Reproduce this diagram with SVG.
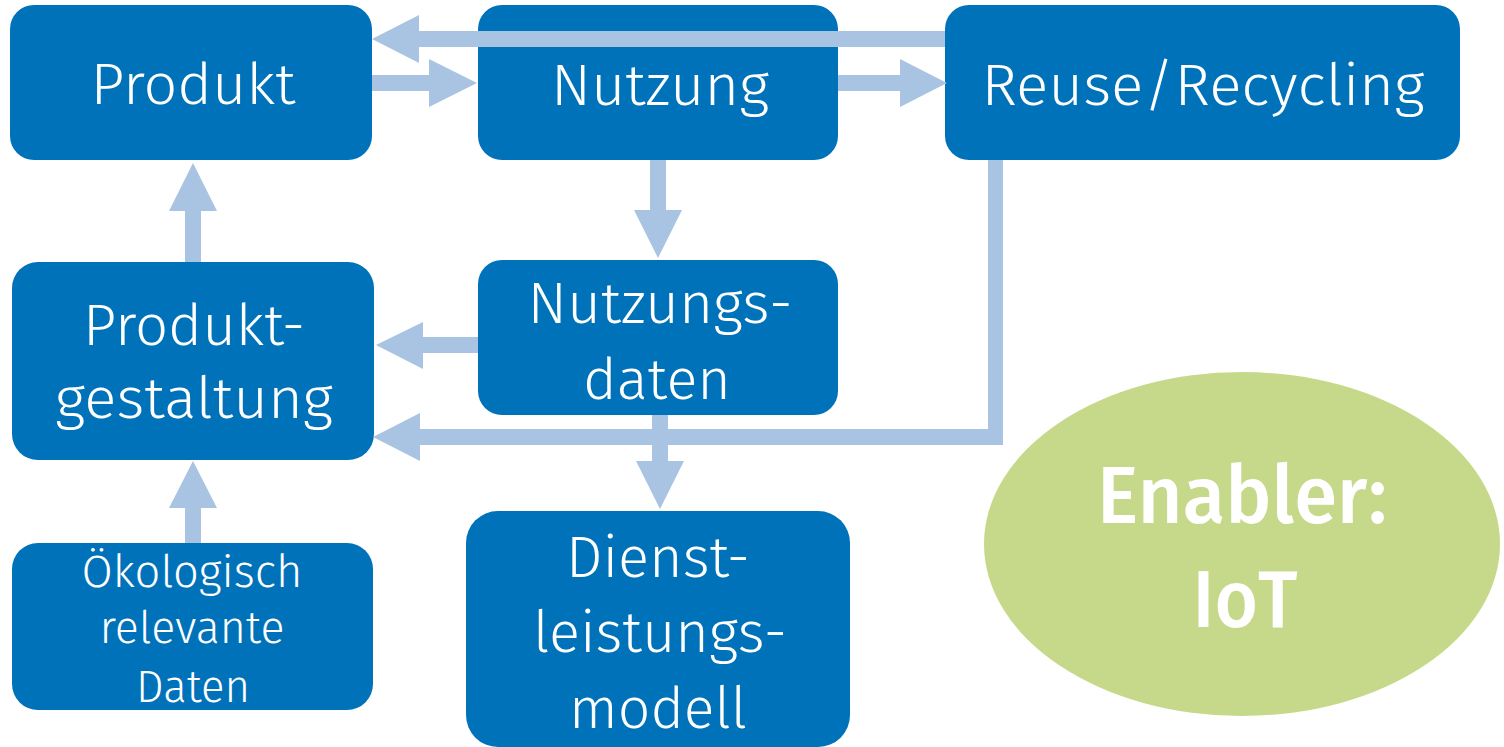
<svg xmlns="http://www.w3.org/2000/svg" width="1504" height="747" viewBox="0 0 1504 747">
<style>
.box{fill:#0072BA}
.t{fill:#fff;font-family:"Fira Sans","Open Sans","Liberation Sans",sans-serif;text-anchor:middle;font-weight:300}
.big{font-size:58px}
.small{font-size:45px}
.en{font-size:81px;font-weight:500}
.arr{fill:#A9C4E2}
</style>
<rect width="1504" height="747" fill="#fff"/>
<g id="produkt">
<rect class="box" x="10" y="5" width="362" height="155" rx="24"/>
<text class="t big" x="193" y="104" textLength="205" lengthAdjust="spacingAndGlyphs">Produkt</text>
</g>
<g id="nutzung">
<rect class="box" x="478" y="5" width="360" height="155" rx="24"/>
<text class="t big" x="660" y="105" textLength="218" lengthAdjust="spacingAndGlyphs">Nutzung</text>
</g>
<g id="reuse">
<rect class="box" x="945" y="5" width="515" height="155" rx="24"/>
<text class="t big" x="1203" y="105" textLength="443" lengthAdjust="spacingAndGlyphs">Reuse/Recycling</text>
</g>
<g id="produktgestaltung">
<rect class="box" x="12" y="262" width="362" height="198" rx="26"/>
<text class="t big" x="194" y="345" textLength="222" lengthAdjust="spacingAndGlyphs">Produkt-</text>
<text class="t big" x="194" y="418" textLength="278" lengthAdjust="spacingAndGlyphs">gestaltung</text>
</g>
<g id="nutzungsdaten">
<rect class="box" x="478" y="260" width="360" height="155" rx="24"/>
<text class="t big" x="660" y="323" textLength="265" lengthAdjust="spacingAndGlyphs">Nutzungs-</text>
<text class="t big" x="657" y="399" textLength="148" lengthAdjust="spacingAndGlyphs">daten</text>
</g>
<g id="oekologisch">
<rect class="box" x="12" y="543" width="361" height="167" rx="26"/>
<text class="t small" x="192" y="587" textLength="221" lengthAdjust="spacingAndGlyphs">Ökologisch</text>
<text class="t small" x="192" y="643" textLength="185" lengthAdjust="spacingAndGlyphs">relevante</text>
<text class="t small" x="193" y="702" textLength="114" lengthAdjust="spacingAndGlyphs">Daten</text>
</g>
<g id="dienstleistungsmodell">
<rect class="box" x="466" y="511" width="384" height="236" rx="32"/>
<text class="t big" x="658" y="577" textLength="184" lengthAdjust="spacingAndGlyphs">Dienst-</text>
<text class="t big" x="660" y="652" textLength="254" lengthAdjust="spacingAndGlyphs">leistungs-</text>
<text class="t big" x="658" y="728" textLength="178" lengthAdjust="spacingAndGlyphs">modell</text>
</g>
<g id="enabler">
<ellipse cx="1242" cy="544" rx="258" ry="172" fill="#C6D98B"/>
<text class="t en" x="1242" y="523" textLength="290" lengthAdjust="spacingAndGlyphs">Enabler:</text>
<text class="t en" x="1245" y="627" textLength="105" lengthAdjust="spacingAndGlyphs">IoT</text>
</g>
<g id="connectors">
<path class="arr" d="M945,31 H419 V15 L372,39 L419,63 V47 H945 Z"/>
<path class="arr" d="M372,75 H429 V59 L477,83 L429,107 V91 H372 Z"/>
<path class="arr" d="M838,75 H900 V59 L947,83 L900,107 V91 H838 Z"/>
<path class="arr" d="M650,160 V210 H634 L658,258 L682,210 H666 V160 Z"/>
<path class="arr" d="M478,337 H423 V322 L376,345 L423,369 V353 H478 Z"/>
<path class="arr" d="M988,160 H1003 V445 H420 V461 L373,437 L420,413 V429 H988 Z"/>
<path class="arr" d="M652,415 V461 H636 L660,509 L684,461 H668 V415 Z"/>
<path class="arr" d="M185,262 V211 H169 L193,163 L217,211 H201 V262 Z"/>
<path class="arr" d="M185,543 V508 H169 L193,461 L217,508 H201 V543 Z"/>
</g>
</svg>
